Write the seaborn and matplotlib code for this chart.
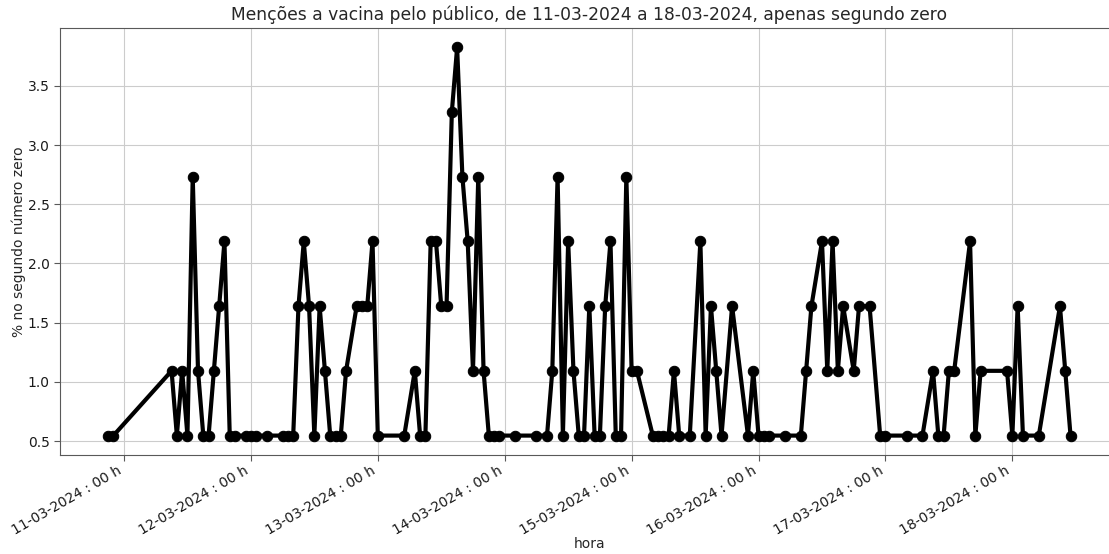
import pandas as pd
import matplotlib
matplotlib.use("Agg")
import matplotlib.pyplot as plt
import matplotlib.dates as mdates
import seaborn as sns

# Horas (dd-mm HH) e percentual de menções com zero no segundo número
horas = [
    "10-03 21", "10-03 22",
    "11-03 09", "11-03 10", "11-03 11", "11-03 12", "11-03 13", "11-03 14", "11-03 15",
    "11-03 16", "11-03 17", "11-03 18", "11-03 19", "11-03 20", "11-03 21", "11-03 23",
    "12-03 00", "12-03 01", "12-03 03", "12-03 06", "12-03 07", "12-03 08", "12-03 09",
    "12-03 10", "12-03 11", "12-03 12", "12-03 13", "12-03 14", "12-03 15", "12-03 16",
    "12-03 17", "12-03 18", "12-03 20", "12-03 21", "12-03 22", "12-03 23",
    "13-03 00", "13-03 05", "13-03 07", "13-03 08", "13-03 09", "13-03 10", "13-03 11",
    "13-03 12", "13-03 13", "13-03 14", "13-03 15", "13-03 16", "13-03 17", "13-03 18",
    "13-03 19", "13-03 20", "13-03 21", "13-03 22", "13-03 23",
    "14-03 02", "14-03 06", "14-03 08", "14-03 09", "14-03 10", "14-03 11", "14-03 12",
    "14-03 13", "14-03 14", "14-03 15", "14-03 16", "14-03 17", "14-03 18", "14-03 19",
    "14-03 20", "14-03 21", "14-03 22", "14-03 23",
    "15-03 00", "15-03 01", "15-03 04", "15-03 05", "15-03 06", "15-03 07", "15-03 08",
    "15-03 09", "15-03 11", "15-03 13", "15-03 14", "15-03 15", "15-03 16", "15-03 17",
    "15-03 19", "15-03 22", "15-03 23",
    "16-03 00", "16-03 01", "16-03 02", "16-03 05", "16-03 08", "16-03 09", "16-03 10",
    "16-03 12", "16-03 13", "16-03 14", "16-03 15", "16-03 16", "16-03 18", "16-03 19",
    "16-03 21", "16-03 23",
    "17-03 00", "17-03 04", "17-03 07", "17-03 09", "17-03 10", "17-03 11", "17-03 12",
    "17-03 13", "17-03 16", "17-03 17", "17-03 18", "17-03 23",
    "18-03 00", "18-03 01", "18-03 02", "18-03 05", "18-03 09", "18-03 10", "18-03 11",
]
percentual = [
    0.546, 0.546,
    1.093, 0.546, 1.093, 0.546, 2.732, 1.093, 0.546,
    0.546, 1.093, 1.639, 2.186, 0.546, 0.546, 0.546,
    0.546, 0.546, 0.546, 0.546, 0.546, 0.546, 1.639,
    2.186, 1.639, 0.546, 1.639, 1.093, 0.546, 0.546,
    0.546, 1.093, 1.639, 1.639, 1.639, 2.186,
    0.546, 0.546, 1.093, 0.546, 0.546, 2.186, 2.186,
    1.639, 1.639, 3.279, 3.825, 2.732, 2.186, 1.093,
    2.732, 1.093, 0.546, 0.546, 0.546,
    0.546, 0.546, 0.546, 1.093, 2.732, 0.546, 2.186,
    1.093, 0.546, 0.546, 1.639, 0.546, 0.546, 1.639,
    2.186, 0.546, 0.546, 2.732,
    1.093, 1.093, 0.546, 0.546, 0.546, 0.546, 1.093,
    0.546, 0.546, 2.186, 0.546, 1.639, 1.093, 0.546,
    1.639, 0.546, 1.093,
    0.546, 0.546, 0.546, 0.546, 0.546, 1.093, 1.639,
    2.186, 1.093, 2.186, 1.093, 1.639, 1.093, 1.639,
    1.639, 0.546,
    0.546, 0.546, 0.546, 1.093, 0.546, 0.546, 1.093,
    1.093, 2.186, 0.546, 1.093, 1.093,
    0.546, 1.639, 0.546, 0.546, 1.639, 1.093, 0.546,
]

df = pd.DataFrame({
    "hora": pd.to_datetime([h + "-2024" for h in horas], format="%d-%m %H-%Y"),
    "pct": percentual,
})

sns.set_style("whitegrid", {"axes.edgecolor": "0.35", "grid.color": "0.8",
                            "xtick.bottom": True, "ytick.left": True})
plt.rcParams['font.family'] = ['DejaVu Sans']

fig, ax = plt.subplots(figsize=(11.09, 5.54), dpi=100)
fig.subplots_adjust(left=0.0541, right=1.0087, bottom=0.1787, top=0.9495)

sns.lineplot(data=df, x="hora", y="pct", ax=ax, color="black", linewidth=3,
             marker="o", markersize=7.5, markeredgecolor="black")

ax.xaxis.set_major_locator(mdates.DayLocator())
ax.xaxis.set_major_formatter(mdates.DateFormatter("%d-%m-%Y : %H h"))
plt.setp(ax.get_xticklabels(), rotation=30, ha="right")
ax.tick_params(labelsize=10, colors="0.1", length=4, color="0.35")
ax.tick_params(axis="x", pad=2)

ax.set_title("Menções a vacina pelo público, de 11-03-2024 a 18-03-2024, apenas segundo zero",
             fontsize=12.3)
ax.set_xlabel("hora", fontsize=10, labelpad=0)
ax.set_ylabel("% no segundo número zero", fontsize=10, labelpad=1)

fig.savefig("out.png", dpi=100)
